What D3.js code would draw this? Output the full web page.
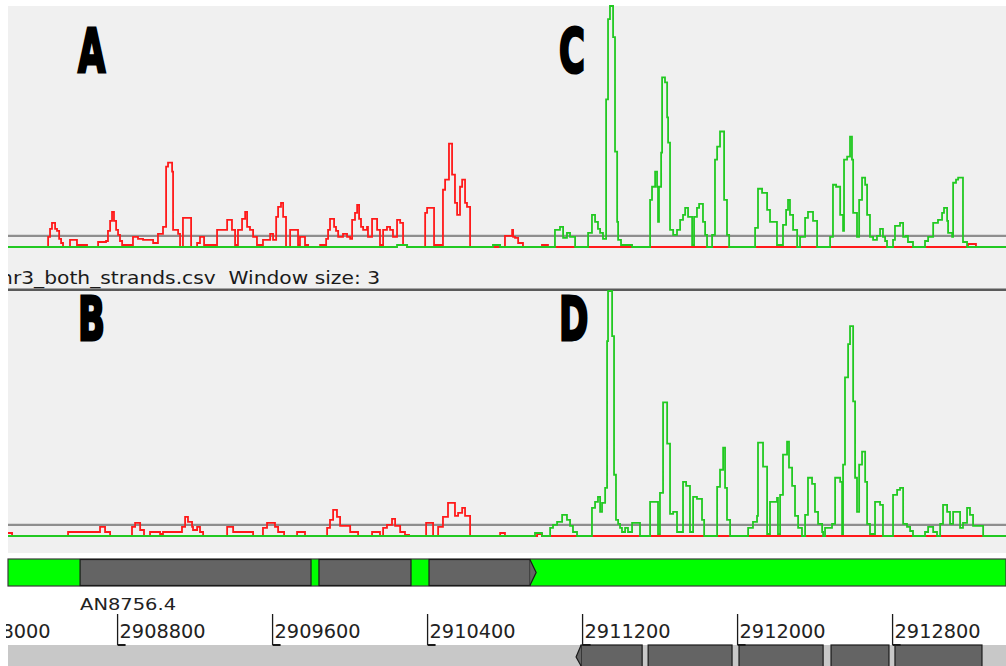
<!DOCTYPE html>
<html>
<head>
<meta charset="utf-8">
<script src="https://cdn.jsdelivr.net/npm/d3@7"></script>
<style>
  html, body { margin: 0; padding: 0; background: #ffffff; overflow: hidden; }
  svg { display: block; }
</style>
</head>
<body>
<svg id="chart" width="1006" height="666"></svg>
<script>
// Visible region of chr3 (bp)
const viewStart = 2908237;
const viewEnd = 2913388;

// Coverage, window size 3. Each pair is [position, value]; value holds until the next position.
const topForward = [
  [2908237,0],[2908444,5],[2908454,9],[2908464,12],[2908480,9],[2908490,8],[2908501,4],[2908511,2],[2908521,0],
  [2908557,3.5],[2908593,1],[2908645,0],
  [2908702,2.5],[2908743,3],[2908753,8],[2908764,13],[2908774,17.5],[2908784,13],[2908795,8.5],[2908805,6],[2908815,3],[2908826,1],
  [2908882,5],[2908908,4],[2908934,3.5],[2908986,2],[2909011,6.5],[2909037,10],[2909053,40],[2909063,42],[2909084,37.5],[2909089,8.5],[2909115,6.5],[2909125,0],[2909140,14.5],[2909182,0],
  [2909213,2],[2909228,5],[2909249,1],[2909316,8.5],[2909368,13.5],[2909393,8.5],[2909409,1],[2909424,8.5],[2909445,14],[2909461,17.5],[2909471,10],[2909486,8.5],[2909502,5],[2909522,1],[2909553,3.5],[2909590,6.5],[2909605,3.5],[2909621,15],[2909631,20],[2909646,22],[2909657,15],[2909672,0],
  [2909693,8.5],[2909734,1],[2909744,5],[2909770,1],[2909786,0],[2909848,1],[2909879,4],[2909889,8.5],[2909899,14],[2909920,10],[2909930,8],[2909941,5],[2909966,6.5],[2909987,5],[2910003,4],[2910013,13.5],[2910028,17],[2910039,21],[2910049,14],[2910059,10],[2910070,8.5],[2910090,10],[2910095,5],[2910116,14],[2910142,8.5],[2910157,1],[2910173,8.5],[2910193,10],[2910209,8.5],[2910224,5],[2910245,13.5],[2910261,12],[2910276,1],[2910297,0],
  [2910390,17],[2910400,19.5],[2910436,1],[2910482,28.5],[2910493,33.5],[2910513,51.5],[2910529,36],[2910544,22],[2910555,16],[2910570,30],[2910581,33.5],[2910596,22],[2910606,20],[2910622,0],
  [2910802,5.5],[2910839,8.5],[2910844,5],[2910854,4.5],[2910870,2],[2910895,0],[2910993,1],[2911024,0],[2913192,1.5],[2913233,0],[2913388,0]
];

const topReverse = [
  [2908237,0],[2910245,1],[2910297,0],[2910740,1],[2910777,0],
  [2911060,8.5],[2911086,10],[2911102,4.5],[2911122,7],[2911138,5],[2911164,0],
  [2911231,7],[2911251,16],[2911267,12.5],[2911282,9],[2911293,7],[2911308,4],[2911324,73.5],[2911334,113.5],[2911344,120],[2911360,104.5],[2911370,47.5],[2911381,12.5],[2911386,3.5],[2911401,1],[2911458,0],
  [2911551,23.5],[2911561,30],[2911577,37.5],[2911587,30],[2911592,12.5],[2911597,30],[2911608,47],[2911613,84.5],[2911628,82],[2911639,64.5],[2911644,52],[2911654,8.5],[2911670,6],[2911690,8.5],[2911706,13.5],[2911721,16],[2911732,19.5],[2911747,15],[2911768,1],[2911778,15],[2911793,19.5],[2911804,21.5],[2911824,12.5],[2911835,6],[2911845,0],
  [2911871,6],[2911886,43.5],[2911897,50],[2911912,57.5],[2911933,23.5],[2911948,6],[2911959,0],
  [2912093,9.5],[2912108,29],[2912129,27],[2912155,18.5],[2912170,12.5],[2912206,1],[2912237,11],[2912253,18.5],[2912263,23.5],[2912273,16],[2912289,8.5],[2912310,0],
  [2912325,5],[2912351,14.5],[2912366,17.5],[2912392,13],[2912413,0],
  [2912480,5],[2912495,31],[2912511,30],[2912532,16],[2912547,8],[2912552,43.5],[2912568,45],[2912583,55],[2912593,43.5],[2912599,17],[2912619,5],[2912630,23.5],[2912645,34.5],[2912661,31],[2912671,16],[2912686,5],[2912702,3.5],[2912722,5.5],[2912738,9],[2912753,5],[2912764,3],[2912774,0],
  [2912805,3.5],[2912815,10.5],[2912841,12],[2912857,5],[2912872,5.5],[2912882,2.5],[2912908,0],
  [2912970,3],[2912986,5],[2913012,12],[2913037,13.5],[2913058,17],[2913068,19.5],[2913084,13],[2913089,7],[2913110,5],[2913115,32],[2913130,33.5],[2913141,34.5],[2913166,2.5],[2913187,0],[2913388,0]
];

const bottomForward = [
  [2908237,1.5],[2908258,0],[2908547,2],[2908712,4.5],[2908738,2],[2908764,0],
  [2908877,4.5],[2908893,6.5],[2908919,3],[2908939,0],[2908970,2],[2909022,1],[2909037,2],[2909135,4.5],[2909151,9.5],[2909166,7],[2909187,4.5],[2909192,3],[2909213,4.5],[2909228,2],[2909244,0],
  [2909368,4.5],[2909399,2],[2909502,0],
  [2909553,4],[2909574,6.5],[2909615,4.5],[2909631,2],[2909662,0],
  [2909729,2],[2909770,0],
  [2909884,4],[2909899,8],[2909915,13],[2909935,9.5],[2909951,5],[2910003,2],[2910044,0],
  [2910116,2],[2910157,0],[2910173,4],[2910193,5.5],[2910219,8.5],[2910235,5],[2910261,2],[2910286,0.5],[2910307,0],
  [2910395,6.5],[2910431,0],[2910457,4.5],[2910482,9.5],[2910508,16.5],[2910544,10],[2910560,11.5],[2910581,14],[2910596,10],[2910622,0],
  [2910777,1.5],[2910802,0],[2910968,1],[2910993,0],[2913388,0]
];

const bottomReverse = [
  [2908237,0],[2910957,1.5],[2910993,0],
  [2911035,4],[2911050,5.5],[2911071,7],[2911097,10.5],[2911122,8],[2911138,5],[2911153,2],[2911174,0],
  [2911251,14],[2911267,17],[2911282,19.5],[2911293,12],[2911303,16.5],[2911319,24],[2911329,97],[2911334,122],[2911355,99.5],[2911365,30.5],[2911375,8],[2911386,6],[2911396,4],[2911406,2],[2911422,4],[2911437,2],[2911458,6.5],[2911499,0],
  [2911551,17],[2911592,1],[2911602,21.5],[2911618,66.5],[2911639,46],[2911654,11],[2911670,12],[2911690,2],[2911721,27],[2911737,25],[2911757,2],[2911773,19.5],[2911793,18.5],[2911819,8],[2911830,0],
  [2911897,24.5],[2911912,33],[2911928,44],[2911938,24],[2911948,8],[2911964,0],
  [2912057,4],[2912082,7],[2912103,10],[2912108,46.5],[2912134,34.5],[2912155,1],[2912170,17],[2912206,19],[2912211,1],[2912222,20.5],[2912237,40.5],[2912258,47],[2912268,34],[2912284,25],[2912299,10],[2912315,4],[2912335,0],
  [2912351,10.5],[2912366,29],[2912387,26],[2912402,12],[2912418,6],[2912439,2],[2912444,0],
  [2912454,4],[2912490,6],[2912506,29],[2912532,27],[2912542,1],[2912547,35.5],[2912557,79],[2912573,95.5],[2912583,104.5],[2912599,67],[2912609,29],[2912619,12],[2912630,35.5],[2912645,42],[2912661,27],[2912671,6],[2912686,1],[2912712,17],[2912738,15.5],[2912753,0],
  [2912805,20.5],[2912826,23],[2912841,24],[2912857,6],[2912877,4.5],[2912893,2.5],[2912908,0],
  [2912970,2],[2912986,4.5],[2913012,2],[2913032,0],[2913048,6],[2913063,15.5],[2913084,12],[2913099,6],[2913115,12],[2913151,4],[2913166,6.5],[2913187,14],[2913202,10.5],[2913218,5],[2913270,0],[2913388,0]
];

// Horizontal cutoff line drawn in both graphs
const cutoff = 5.5;

// Panel letters: top graph [left, right], bottom graph [left, right]
const panelLetters = [["A", "C"], ["B", "D"]];

const graphTitle = "chr3_both_strands.csv  Window size: 3";

// Forward-strand gene model and its exons
const geneName = "AN8756.4";
const geneStart = 2908609;
const geneExons = [[2908609, 2909801], [2909842, 2910317], [2910410, 2910932]];
const geneArrowTip = 2910963;

// Exons on the reverse-strand track
const reverseExons = [[2911195, 2911510], [2911541, 2911974], [2912010, 2912444], [2912485, 2912784], [2912815, 2913264]];
const reverseArrowTip = 2911169;

// Ruler ticks
const tickValues = [2908000, 2908800, 2909600, 2910400, 2911200, 2912000, 2912800];

const RED = "#ff1a1a";
const GREEN = "#22c922";

const svg = d3.select("#chart");
const x = d3.scaleLinear().domain([viewStart, viewEnd]).range([8, 1006]);

// Graph panels
const panels = [
  { y0: 6, y1: 289, top: 6, base: 247, forward: topForward, reverse: topReverse, letters: panelLetters[0], letterBase: 72 },
  { y0: 291, y1: 553, top: 291, base: 536, forward: bottomForward, reverse: bottomReverse, letters: panelLetters[1], letterBase: 340 }
];

panels.forEach(p => {
  svg.append("rect").attr("x", 8).attr("y", p.y0).attr("width", 998).attr("height", p.y1 - p.y0).attr("fill", "#f0f0f0");
});

// Title line between the graphs
svg.append("text")
  .attr("x", -11).attr("y", 284)
  .attr("font-family", "DejaVu Sans").attr("font-size", 17).attr("fill", "#1a1a1a")
  .style("white-space", "pre")
  .attr("textLength", 391).attr("lengthAdjust", "spacingAndGlyphs")
  .text(graphTitle);
svg.append("rect").attr("x", 8).attr("y", 288.5).attr("width", 998).attr("height", 2.5).attr("fill", "#5a5a5a");
svg.append("rect").attr("x", 0).attr("y", 0).attr("width", 8).attr("height", 558).attr("fill", "#ffffff");

panels.forEach(p => {
  const yMax = d3.max([...p.forward, ...p.reverse], d => d[1]);
  const y = d3.scaleLinear().domain([0, yMax]).range([p.base, p.top]);
  const g = svg.append("g");

  g.append("line")
    .attr("x1", 8).attr("x2", 1006)
    .attr("y1", y(cutoff)).attr("y2", y(cutoff))
    .attr("stroke", "#8e8e8e").attr("stroke-width", 2.2);

  const line = d3.line()
    .x(d => x(d[0]))
    .y(d => y(d[1]))
    .curve(d3.curveStepAfter);

  g.append("path").datum(p.forward)
    .attr("d", line).attr("fill", "none")
    .attr("stroke", RED).attr("stroke-width", 1.8).attr("stroke-linejoin", "miter");
  g.append("path").datum(p.reverse)
    .attr("d", line).attr("fill", "none")
    .attr("stroke", GREEN).attr("stroke-width", 1.8).attr("stroke-linejoin", "miter");

  // Panel letters
  const letterX = [78, 559];
  p.letters.forEach((L, i) => {
    svg.append("text")
      .attr("transform", `translate(${letterX[i]},${p.letterBase}) scale(0.58,1)`)
      .attr("font-family", "DejaVu Sans").attr("font-weight", "bold")
      .attr("font-size", 61).attr("fill", "#000")
      .attr("stroke", "#000").attr("stroke-width", 3)
      .text(L);
  });
});

// Forward-strand feature track
const trackTop = 559, trackH = 27;
svg.append("rect").attr("x", 8).attr("y", trackTop).attr("width", 998).attr("height", trackH)
  .attr("fill", "#00ff00").attr("stroke", "#3a3a3a").attr("stroke-width", 1.2);
svg.selectAll(".gene-exon").data(geneExons).enter().append("rect")
  .attr("class", "gene-exon")
  .attr("x", d => x(d[0])).attr("y", trackTop + 0.5)
  .attr("width", d => x(d[1]) - x(d[0])).attr("height", trackH - 1)
  .attr("fill", "#646464").attr("stroke", "#1a1a1a").attr("stroke-width", 1.2);
{
  const last = geneExons[geneExons.length - 1];
  const xe = x(last[1]), xt = x(geneArrowTip);
  svg.append("path")
    .attr("d", `M${xe},${trackTop + 1}L${xt},${trackTop + trackH / 2}L${xe},${trackTop + trackH - 1}`)
    .attr("fill", "#646464").attr("stroke", "#1a1a1a").attr("stroke-width", 1.2);
}
svg.append("text")
  .attr("x", x(geneStart)).attr("y", 610)
  .attr("font-family", "DejaVu Sans").attr("font-size", 16.5).attr("fill", "#222")
  .attr("textLength", 96).attr("lengthAdjust", "spacingAndGlyphs")
  .text(geneName);

// Reverse-strand track
const revTop = 645;
svg.append("rect").attr("x", 8).attr("y", revTop).attr("width", 998).attr("height", 666 - revTop).attr("fill", "#c8c8c8");
svg.selectAll(".rev-exon").data(reverseExons).enter().append("rect")
  .attr("class", "rev-exon")
  .attr("x", d => x(d[0])).attr("y", revTop)
  .attr("width", d => x(d[1]) - x(d[0])).attr("height", 30)
  .attr("fill", "#646464").attr("stroke", "#1a1a1a").attr("stroke-width", 1.2);
{
  const xs = x(reverseExons[0][0]), xt = x(reverseArrowTip);
  svg.append("path")
    .attr("d", `M${xs},${revTop}L${xt},${revTop + 12}L${xs},${666}`)
    .attr("fill", "#646464").attr("stroke", "#1a1a1a").attr("stroke-width", 1.2);
}

// Ruler
const axis = d3.axisBottom(x).tickValues(tickValues).tickSize(31).tickFormat(d => String(d));
const ag = svg.append("g").attr("transform", "translate(0,614)").call(axis);
ag.select(".domain").remove();
ag.attr("font-family", "DejaVu Sans").attr("font-size", 19);
ag.selectAll(".tick line").attr("stroke", "#1a1a1a").attr("stroke-width", 1.3);
ag.selectAll(".tick").append("line")
  .attr("x1", 0).attr("x2", 8).attr("y1", 31).attr("y2", 31)
  .attr("stroke", "#1a1a1a").attr("stroke-width", 2);
ag.selectAll(".tick text")
  .attr("x", 2).attr("y", 23.5).attr("dy", 0)
  .attr("text-anchor", "start").attr("fill", "#222")
  .attr("textLength", 86).attr("lengthAdjust", "spacingAndGlyphs");

// Left margin stays blank beside the ruler
svg.append("rect").attr("x", 0).attr("y", 590).attr("width", 6).attr("height", 76).attr("fill", "#ffffff");
</script>
</body>
</html>
